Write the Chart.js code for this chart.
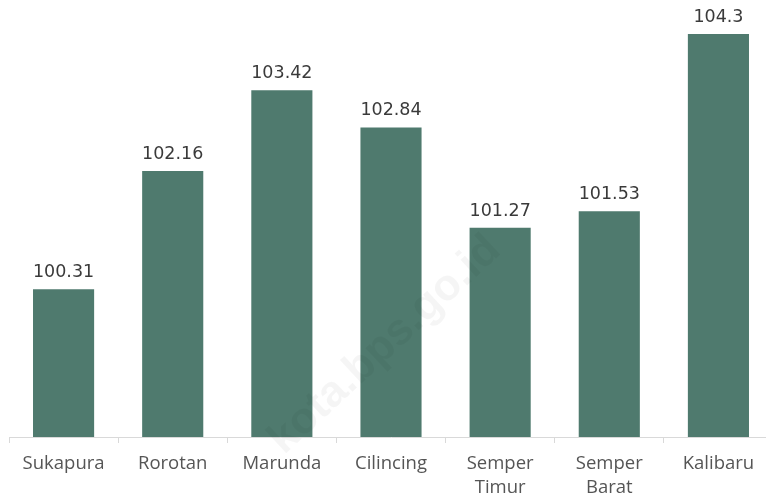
<!DOCTYPE html>
<html>
<head>
<meta charset="utf-8">
<script src="https://cdn.jsdelivr.net/npm/chart.js@4/dist/chart.umd.min.js"></script>
<style>
html,body{margin:0;padding:0;background:#fff;overflow:hidden;width:766px;height:499px;}
#wrap{position:absolute;left:0;top:0;width:775px;height:499px;}
</style>
</head>
<body>
<div id="wrap"><canvas id="c" width="775" height="499"></canvas></div>
<script>
const categories = ["Sukapura", "Rorotan", "Marunda", "Cilincing", ["Semper", "Timur"], ["Semper", "Barat"], "Kalibaru"];
const values = [100.31, 102.16, 103.42, 102.84, 101.27, 101.53, 104.3];
const valueLabels = ["100.31", "102.16", "103.42", "102.84", "101.27", "101.53", "104.3"];
const watermark = "kota.bps.go.id";

const valueLabelPlugin = {
  id: 'valueLabels',
  afterDatasetsDraw(chart) {
    const ctx = chart.ctx;
    const meta = chart.getDatasetMeta(0);
    ctx.save();
    ctx.font = '17.5px "DejaVu Sans"';
    ctx.fillStyle = '#3a3a3a';
    ctx.textAlign = 'center';
    ctx.textBaseline = 'alphabetic';
    meta.data.forEach((bar, i) => {
      ctx.fillText(valueLabels[i], bar.x, bar.y - 12);
    });
    ctx.restore();
  },
  afterDraw(chart) {
    const ctx = chart.ctx;
    ctx.save();
    ctx.translate(385, 345);
    ctx.rotate(-Math.PI / 4.2);
    ctx.font = 'bold 44px "Liberation Sans"';
    ctx.fillStyle = 'rgba(0,0,0,0.04)';
    ctx.textAlign = 'center';
    ctx.textBaseline = 'middle';
    ctx.fillText(watermark, 0, 0);
    ctx.restore();
  }
};

new Chart(document.getElementById('c'), {
  type: 'bar',
  data: {
    labels: categories,
    datasets: [{
      data: values,
      backgroundColor: '#4f7a6e',
      borderWidth: 0,
      categoryPercentage: 1,
      barPercentage: 0.56
    }]
  },
  options: {
    responsive: false,
    animation: false,
    layout: { padding: { left: 9, right: 2, top: 34, bottom: 0 } },
    plugins: { legend: { display: false }, tooltip: { enabled: false } },
    scales: {
      y: { display: false, min: 98, max: 104.3 },
      x: {
        afterFit: s => { s.height = 62; },
        border: { display: true, color: '#d9d9d9', width: 1 },
        grid: { display: true, offset: true, drawOnChartArea: false, tickLength: 6, color: '#d9d9d9' },
        ticks: { color: '#555', font: { family: '"Open Sans"', size: 18.5, lineHeight: 1.3 }, padding: 9, maxRotation: 0, autoSkip: false }
      }
    }
  },
  plugins: [valueLabelPlugin]
});
</script>
</body>
</html>
